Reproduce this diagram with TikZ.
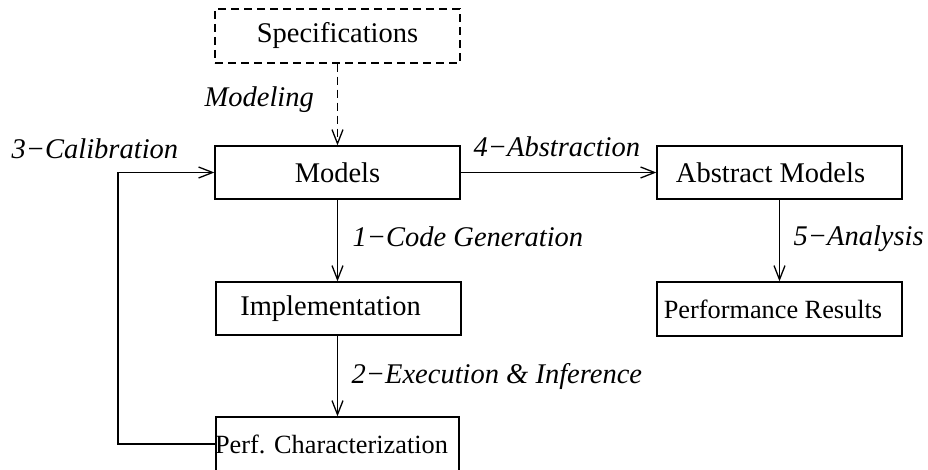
\documentclass[tikz,border=0pt]{standalone}
\usepackage{fontspec}
\setmainfont{Liberation Serif}
\usetikzlibrary{arrows.meta}
\begin{document}
\begin{tikzpicture}[x=1pt,y=-1pt,
  line width=1.3pt,
  every node/.style={font=\fontsize{28.5}{34}\selectfont},
  box/.style={draw, rectangle, inner sep=0pt, minimum width=245pt, minimum height=53pt},
  smallbox/.style={box, font=\fontsize{26.3}{31}\selectfont},
  lab/.style={anchor=base west, inner sep=0pt, font=\fontsize{28.5}{34}\selectfont\itshape},
  arr/.style={-{Straight Barb[length=14pt,width=11pt]}},
  dashpat/.style={dash pattern=on 8pt off 5pt}]
\clip (0,0) rectangle (928,470);
% boxes
\node[box, dashpat, minimum height=54pt] (specs) at (337.5,36) {Specifications};
\node[box] (models) at (337.5,172.5) {Models};
\node[box] (abs) at (779.5,172.5) {\hspace*{-18pt}Abstract Models};
\node[smallbox, minimum height=54pt] (perfres) at (779.5,309) {\hspace*{-13pt}Performance Results};
\node[box, minimum height=53pt] (impl) at (338.5,308.5) {\hspace*{-16pt}Implementation};
\node[smallbox, minimum width=243pt, minimum height=54pt] (perfchar) at (337.5,444) {\hspace*{-12pt}Perf. Characterization};
% labels
\node[lab] (lmod) at (204,107) {Modeling};
\node[lab] (lcal) at (11,159) {3−Calibration};
\node[lab] (labs) at (473,157) {4−Abstraction};
\node[lab] (lcode) at (352,247) {1−Code Generation};
\node[lab] (lana) at (793,246) {5−Analysis};
\node[lab] (lexe) at (351,383) {2−Execution \& Inference};
% connectors
\coordinate (fb1) at (118,444);
\coordinate (fb2) at (118,172.5);
\draw[arr, dashpat] (specs.south) -- (models.north);
\draw[arr] (models.east) -- (abs.west);
\draw[arr] (models.south) -- (models.south |- impl.north);
\draw[arr] (models.south |- impl.south) -- (models.south |- perfchar.north);
\draw[arr] (abs.south) -- (perfres.north);
\draw[arr] (perfchar.west) -- (fb1) -- (fb2) -- (models.west);
\end{tikzpicture}
\end{document}
